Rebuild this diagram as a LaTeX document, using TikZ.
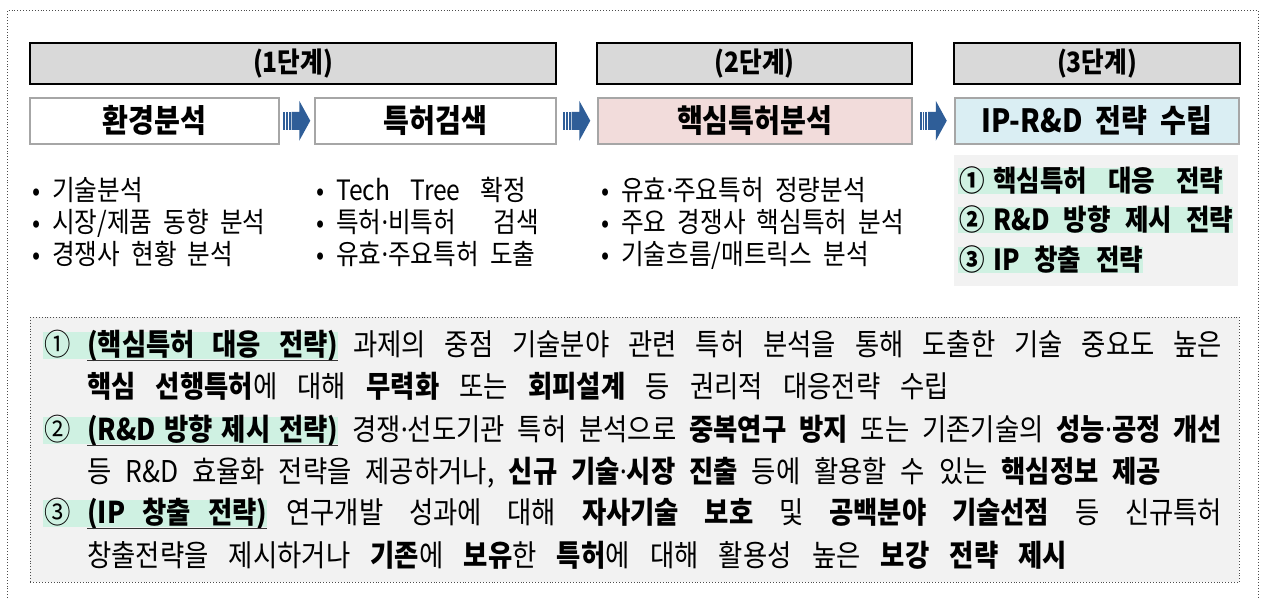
\documentclass[tikz,border=0pt]{standalone}
\usepackage{fontspec}
\setmainfont{Noto Sans CJK KR}[FakeStretch=0.88]
\newfontfamily\latinfont{Noto Sans}[FakeStretch=0.88]
\usetikzlibrary{calc}
\definecolor{hdrgray}{HTML}{D9D9D9}
\definecolor{boxgray}{HTML}{A6A6A6}
\definecolor{pinkfill}{HTML}{F2DCDB}
\definecolor{bluefill}{HTML}{DAEEF3}
\definecolor{panel}{HTML}{F2F2F2}
\definecolor{mint}{HTML}{CFF1E2}
\definecolor{arrowblue}{HTML}{2F5E98}
\newcommand{\setfs}[1]{\fontsize{#1}{#1}\selectfont\spaceskip=0.4em plus 1.5em minus 0.26em\relax}
\newcommand{\mdot}{{\latinfont ·}}
\tikzset{
  frame/.style={draw=black!70, dotted, line width=0.9pt},
  hdr/.style={draw=black, line width=2.2pt, fill=hdrgray, font=\setfs{28}\bfseries,
    anchor=north west, minimum height=41pt, inner sep=0pt},
  stepbox/.style={draw=boxgray, line width=1.5pt, font=\setfs{32}\bfseries,
    anchor=north west, minimum height=46pt, inner sep=0pt},
  bul/.style={font=\setfs{27}, inner sep=0pt, anchor=center, text height=23pt, text depth=4pt},
  btext/.style={font=\setfs{28}, inner sep=0pt, anchor=west, text height=23.8pt, text depth=4.2pt},
  ltext/.style={font=\setfs{29}\bfseries, inner sep=0pt, anchor=west, text height=24.6pt, text depth=4.4pt},
  ntext/.style={font=\setfs{30}, inner sep=0pt, anchor=west, text height=25.5pt, text depth=4.5pt},
  nhead/.style={ntext, font=\setfs{30}\bfseries},
  panelbox/.style={fill=panel, anchor=north west, inner sep=0pt},
  uline/.style={draw=black!80, line width=1.1pt},
  blockarrow/.pic={
    \fill[arrowblue] (-13.5,-9) rectangle (-11.7,9);
    \fill[arrowblue] (-10.7,-9) rectangle (-8.9,9);
    \fill[arrowblue] (-7.9,-9) rectangle (-6.1,9);
    \fill[arrowblue] (-5.1,-9) -- (2.5,-9) -- (2.5,-20) -- (13.5,0) -- (2.5,20) -- (2.5,9) -- (-5.1,9) -- cycle;
  }
}
\begin{document}
\begin{tikzpicture}[x=1pt,y=-1pt]
\useasboundingbox (0,0) rectangle (1262,598);
\fill[white] (0,0) rectangle (1262,598);
\draw[frame] (7.5,598) -- (7.5,10.5) -- (1258,10.5) -- (1258,598);

% stage headers
\node[hdr, minimum width=526pt] (h1) at (29,42) {(1단계)};
\node[hdr, minimum width=315pt] (h2) at (596,42) {(2단계)};
\node[hdr, minimum width=286pt] (h3) at (953,42) {(3단계)};

% step boxes
\node[stepbox, fill=white, minimum width=249pt] (s1) at (29,97) {환경분석};
\node[stepbox, fill=white, minimum width=241pt] (s2) at (314,97) {특허검색};
\node[stepbox, fill=pinkfill, minimum width=314pt] (s3) at (597,97) {핵심특허분석};
\node[stepbox, fill=bluefill, minimum width=284pt] (s4) at (954,97) {IP-R\&D 전략 수립};

\path ($(s1.east)!0.5!(s2.west)$) pic {blockarrow};
\path ($(s2.east)!0.5!(s3.west)$) pic {blockarrow};
\path ($(s3.east)!0.5!(s4.west)$) pic {blockarrow};

% bullets column 1
\node[bul] (b11) at (37,191) {•};
\node[btext] (t11) at (52,191) {기술분석};
\node[bul] (b12) at (37,223) {•};
\node[btext] (t12) at (52,223) {시장/제품 동향 분석};
\node[bul] (b13) at (37,255) {•};
\node[btext] (t13) at (52,255) {경쟁사 현황 분석};
% column 2
\node[bul] (b21) at (321,191) {•};
\node[btext] (t21) at (336,191) {\makebox[190pt][s]{Tech Tree 확정}};
\node[bul] (b22) at (321,223) {•};
\node[btext] (t22) at (336,223) {\makebox[203pt][s]{특허\mdot 비특허 검색}};
\node[bul] (b23) at (321,255) {•};
\node[btext] (t23) at (336,255) {유효\mdot 주요특허 도출};
% column 3
\node[bul] (b31) at (606,191) {•};
\node[btext] (t31) at (621,191) {유효\mdot 주요특허 정량분석};
\node[bul] (b32) at (606,223) {•};
\node[btext] (t32) at (621,223) {주요 경쟁사 핵심특허 분석};
\node[bul] (b33) at (606,255) {•};
\node[btext] (t33) at (621,255) {기술흐름/매트릭스 분석};

% strategy list
\node[panelbox, minimum width=284pt, minimum height=131pt] (lst) at (954,155) {};
\fill[mint] (958,168) rectangle (1223,194);
\fill[mint] (958,207) rectangle (1233,233);
\fill[mint] (958,247) rectangle (1143,273);
\node[ltext] (c1) at (959,181) {①};
\node[ltext] (l1) at (993,181) {\makebox[230pt][s]{핵심특허 대응 전략}};
\node[ltext] (c2) at (959,220) {②};
\node[ltext] (l2) at (993,220) {\makebox[240pt][s]{R\&D 방향 제시 전략}};
\node[ltext] (c3) at (959,260) {③};
\node[ltext] (l3) at (993,260) {\makebox[150pt][s]{IP 창출 전략}};

% note panel
\node[panelbox, draw=black!70, dotted, line width=0.9pt, minimum width=1209pt, minimum height=265pt] (note) at (30,317) {};
\fill[mint] (43,332) rectangle (338,359);
\fill[mint] (43,417) rectangle (338,444);
\fill[mint] (43,500) rectangle (267,527);

\node[ntext] (n1) at (44,345) {①};
\node[nhead] (hd1) at (87,345) {\makebox[251pt][s]{(핵심특허 대응 전략)}};
\node[ntext] (r1) at (353,345) {\makebox[869pt][s]{과제의 중점 기술분야 관련 특허 분석을 통해 도출한 기술 중요도 높은}};
\node[ntext] (r2) at (87,387) {\makebox[862pt][s]{{\bfseries 핵심 선행특허}에 대해 {\bfseries 무력화} 또는 {\bfseries 회피설계} 등 권리적 대응전략 수립}};

\node[ntext] (n3) at (44,430) {②};
\node[nhead] (hd3) at (87,430) {\makebox[251pt][s]{(R\&D 방향 제시 전략)}};
\node[ntext] (r3) at (352,430) {\makebox[870pt][s]{경쟁\mdot 선도기관 특허 분석으로 {\bfseries 중복연구 방지} 또는 기존기술의 {\bfseries 성능\mdot 공정 개선}}};
\node[ntext] (r4) at (87,472) {\makebox[1074pt][s]{등 R\&D 효율화 전략을 제공하거나, {\bfseries 신규 기술\mdot 시장 진출} 등에 활용할 수 있는 {\bfseries 핵심정보 제공}}};

\node[ntext] (n5) at (44,513) {③};
\node[nhead] (hd5) at (87,513) {\makebox[180pt][s]{(IP 창출 전략)}};
\node[ntext] (r5) at (286,513) {\makebox[936pt][s]{연구개발 성과에 대해 {\bfseries 자사기술 보호} 및 {\bfseries 공백분야 기술선점} 등 신규특허}};
\node[ntext] (r6) at (87,556) {\makebox[980pt][s]{창출전략을 제시하거나 {\bfseries 기존}에 {\bfseries 보유}한 {\bfseries 특허}에 대해 활용성 높은 {\bfseries 보강 전략 제시}}};

\draw[uline] (hd1.south west) -- (hd1.south east);
\draw[uline] (hd3.south west) -- (hd3.south east);
\draw[uline] (hd5.south west) -- (hd5.south east);
\end{tikzpicture}
\end{document}
